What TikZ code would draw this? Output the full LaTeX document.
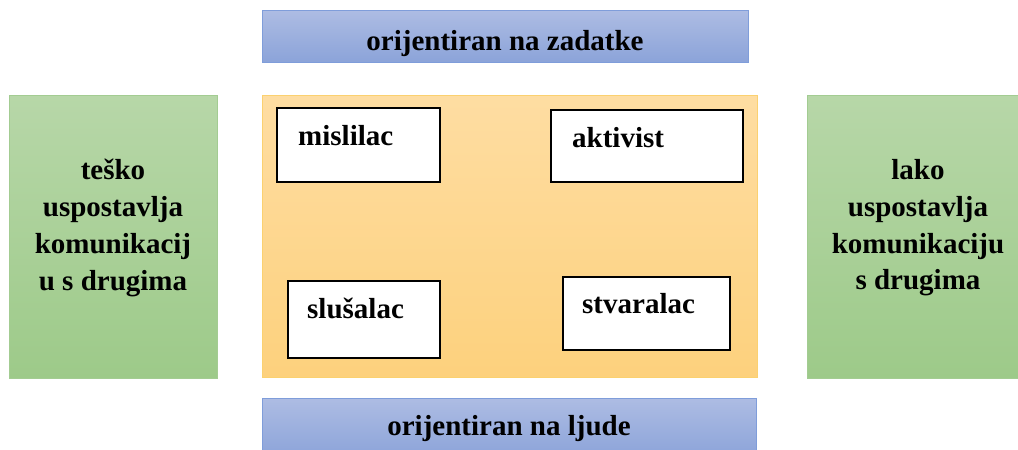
\documentclass[tikz,border=0pt]{standalone}
\usepackage{fontspec}
\setmainfont{Liberation Serif}
\begin{document}
\begin{tikzpicture}[x=1pt,y=-1pt,
  bluebox/.style={rectangle, draw=blueedge, line width=1pt, top color=bluetop, bottom color=bluebot, anchor=north west, inner sep=0pt},
  greenbox/.style={rectangle, draw=greenedge, line width=1pt, top color=greentop, bottom color=greenbot, anchor=north west, inner sep=0pt},
  orangebox/.style={rectangle, draw=orangeedge, line width=1pt, top color=orangetop, bottom color=orangebot, anchor=north west, inner sep=0pt},
  whitebox/.style={rectangle, draw=black, line width=1.6pt, fill=white, anchor=north west, inner sep=0pt},
  lbl/.style={font=\fontsize{29}{36.7}\selectfont\bfseries, inner sep=0pt},
  sidelbl/.style={lbl, align=center},
]
\definecolor{bluetop}{HTML}{ADBCE3}
\definecolor{bluebot}{HTML}{8BA3D9}
\definecolor{blueedge}{HTML}{7F9DDA}
\definecolor{greentop}{HTML}{B7D7A8}
\definecolor{greenbot}{HTML}{9DCA89}
\definecolor{greenedge}{HTML}{A3CC92}
\definecolor{orangetop}{HTML}{FEDDA2}
\definecolor{orangebot}{HTML}{FDD17D}
\definecolor{orangeedge}{HTML}{FBD170}
\useasboundingbox (0,0) rectangle (1018,450);
\clip (0,0) rectangle (1018,450);
\fill[white] (0,0) rectangle (1018,450);

% top and bottom bars
\node[bluebox, minimum width=486pt, minimum height=52pt] (topbar) at (262,10) {};
\node[lbl, anchor=base] (toptext) at (505,50) {orijentiran na zadatke};
\node[bluebox, minimum width=494pt, minimum height=60pt] (botbar) at (262,398) {};
\node[lbl, anchor=base] (bottext) at (509,435) {orijentiran na ljude};

% side boxes
\node[greenbox, minimum width=208pt, minimum height=283pt] (leftbox) at (9,95) {};
\node[sidelbl, anchor=center] (lefttext) at (113,228) {teško\\uspostavlja\\komunikacij\\u s drugima};
\node[greenbox, minimum width=222pt, minimum height=283pt] (rightbox) at (807,95) {};
\node[sidelbl, anchor=center] (righttext) at (918,228) {lako\\uspostavlja\\komunikaciju\\s drugima};

% central area
\node[orangebox, minimum width=495pt, minimum height=282pt] (center) at (262,95) {};

\node[whitebox, minimum width=163pt, minimum height=74pt] (mis) at (276,107) {};
\node[lbl, anchor=base west] (mistext) at (298,145) {mislilac};
\node[whitebox, minimum width=192pt, minimum height=72pt] (akt) at (550,109) {};
\node[lbl, anchor=base west] (akttext) at (572,147) {aktivist};
\node[whitebox, minimum width=152pt, minimum height=77pt] (slu) at (287,280) {};
\node[lbl, anchor=base west] (slutext) at (307,318) {slušalac};
\node[whitebox, minimum width=167pt, minimum height=73pt] (stv) at (562,276) {};
\node[lbl, anchor=base west] (stvtext) at (582,313) {stvaralac};
\end{tikzpicture}
\end{document}
